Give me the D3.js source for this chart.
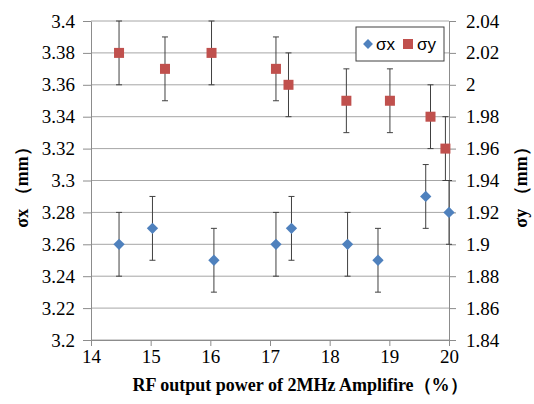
<!DOCTYPE html>
<html>
<head>
<meta charset="utf-8">
<script src="https://cdn.jsdelivr.net/npm/d3@7"></script>
<style>
  body { margin: 0; background: #fff; }
  svg { display: block; }
</style>
</head>
<body>
<div id="chart"></div>
<script>
// sigma x (blue diamonds), left axis
var sxPower = [14.47, 15.03, 16.06, 17.1, 17.36, 18.3, 18.81, 19.61, 20.0];
var sxValue = [3.26, 3.27, 3.25, 3.26, 3.27, 3.26, 3.25, 3.29, 3.28];
var sxErr = [0.02, 0.02, 0.02, 0.02, 0.02, 0.02, 0.02, 0.02, 0.02];

// sigma y (red squares), right axis
var syPower = [14.47, 15.24, 16.02, 17.1, 17.31, 18.28, 19.01, 19.69, 19.94];
var syValue = [2.02, 2.01, 2.02, 2.01, 2.00, 1.99, 1.99, 1.98, 1.96];
var syErr = [0.02, 0.02, 0.02, 0.02, 0.02, 0.02, 0.02, 0.02, 0.02];

var xTicks = [14, 15, 16, 17, 18, 19, 20];
var leftTicks = [3.2, 3.22, 3.24, 3.26, 3.28, 3.3, 3.32, 3.34, 3.36, 3.38, 3.4];
var rightTicks = [1.84, 1.86, 1.88, 1.9, 1.92, 1.94, 1.96, 1.98, 2, 2.02, 2.04];

var width = 534, height = 404;
var margin = {top: 21, right: 85, bottom: 64, left: 91};
var w = width - margin.left - margin.right,
    h = height - margin.top - margin.bottom;

var serifFont = "'Liberation Serif', 'Times New Roman', serif";
var sansFont = "'Liberation Sans', Arial, sans-serif";

var svg = d3.select("#chart").append("svg")
    .attr("width", width)
    .attr("height", height);

var g = svg.append("g")
    .attr("transform", "translate(" + margin.left + "," + margin.top + ")");

var x = d3.scaleLinear().domain([14, 20]).range([0, w]);
var yL = d3.scaleLinear().domain([3.2, 3.4]).range([h, 0]);
var yR = d3.scaleLinear().domain([1.84, 2.04]).range([h, 0]);

var fmt = d3.format("~g");

// gridlines
g.append("g")
    .selectAll("line")
    .data(leftTicks)
    .join("line")
    .attr("x1", 0).attr("x2", w)
    .attr("y1", d => yL(d)).attr("y2", d => yL(d))
    .attr("stroke", "#a6a6a6")
    .attr("stroke-width", 1);

function styleAxis(sel) {
    sel.attr("font-family", null).attr("font-size", null);
    sel.selectAll("path, line").attr("stroke", "#8c8c8c");
    sel.selectAll("text")
        .attr("fill", "#000")
        .style("font-family", serifFont)
        .style("font-size", "19px");
}

g.append("g")
    .attr("transform", "translate(0," + h + ")")
    .call(d3.axisBottom(x).tickValues(xTicks).tickSize(6).tickSizeOuter(0).tickPadding(4).tickFormat(fmt))
    .call(styleAxis);

g.append("g")
    .call(d3.axisLeft(yL).tickValues(leftTicks).tickSize(8).tickSizeOuter(0).tickPadding(8).tickFormat(fmt))
    .call(styleAxis);

g.append("g")
    .attr("transform", "translate(" + w + ",0)")
    .call(d3.axisRight(yR).tickValues(rightTicks).tickSize(7).tickSizeOuter(0).tickPadding(10).tickFormat(fmt))
    .call(styleAxis);

svg.selectAll(".domain").attr("stroke", "#8c8c8c");

// error bars
function errorBars(px, vals, errs, yScale) {
    var eb = g.append("g").attr("stroke", "#404040").attr("stroke-width", 1);
    px.forEach(function(p, i) {
        var cx = x(p), y0 = yScale(vals[i] - errs[i]), y1 = yScale(vals[i] + errs[i]);
        eb.append("line").attr("x1", cx).attr("x2", cx).attr("y1", y0).attr("y2", y1);
        eb.append("line").attr("x1", cx - 3).attr("x2", cx + 3).attr("y1", y0).attr("y2", y0);
        eb.append("line").attr("x1", cx - 3).attr("x2", cx + 3).attr("y1", y1).attr("y2", y1);
    });
}
errorBars(sxPower, sxValue, sxErr, yL);
errorBars(syPower, syValue, syErr, yR);

// markers
var blue = "#4f81bd", red = "#c0504d";
var sxData = sxPower.map((p, i) => [p, sxValue[i]]);
var syData = syPower.map((p, i) => [p, syValue[i]]);

g.append("g")
    .selectAll("rect")
    .data(sxData)
    .join("rect")
    .attr("x", -4).attr("y", -4)
    .attr("width", 8).attr("height", 8)
    .attr("fill", blue)
    .attr("transform", d => "translate(" + x(d[0]) + "," + yL(d[1]) + ") rotate(45)");

g.append("g")
    .selectAll("rect")
    .data(syData)
    .join("rect")
    .attr("x", d => x(d[0]) - 5).attr("y", d => yR(d[1]) - 5)
    .attr("width", 10).attr("height", 10)
    .attr("fill", red);

// legend
var lg = svg.append("g").attr("transform", "translate(356,27)");
lg.append("rect")
    .attr("width", 88).attr("height", 34)
    .attr("fill", "#fff")
    .attr("stroke", "#404040")
    .attr("stroke-width", 1);
lg.append("rect")
    .attr("x", -3.5).attr("y", -3.5).attr("width", 7).attr("height", 7)
    .attr("fill", blue)
    .attr("transform", "translate(12,17) rotate(45)");
lg.append("text")
    .attr("x", 20).attr("y", 23)
    .style("font-family", sansFont)
    .style("font-size", "17px")
    .text("σx");
lg.append("rect")
    .attr("x", 47).attr("y", 12).attr("width", 10).attr("height", 10)
    .attr("fill", red);
lg.append("text")
    .attr("x", 61).attr("y", 23)
    .style("font-family", sansFont)
    .style("font-size", "17px")
    .text("σy");

// axis titles
function title(t, transform, text) {
    svg.append("text")
        .attr("transform", transform)
        .attr("text-anchor", "middle")
        .style("font-family", serifFont)
        .style("font-size", "18px")
        .style("font-weight", "bold")
        .text(text);
}
title("x", "translate(300,391)", "RF output power of 2MHz Amplifire（%）");
title("yl", "translate(28,183) rotate(-90)", "σx （mm）");
title("yr", "translate(527,183) rotate(-90)", "σy （mm）");
</script>
</body>
</html>
